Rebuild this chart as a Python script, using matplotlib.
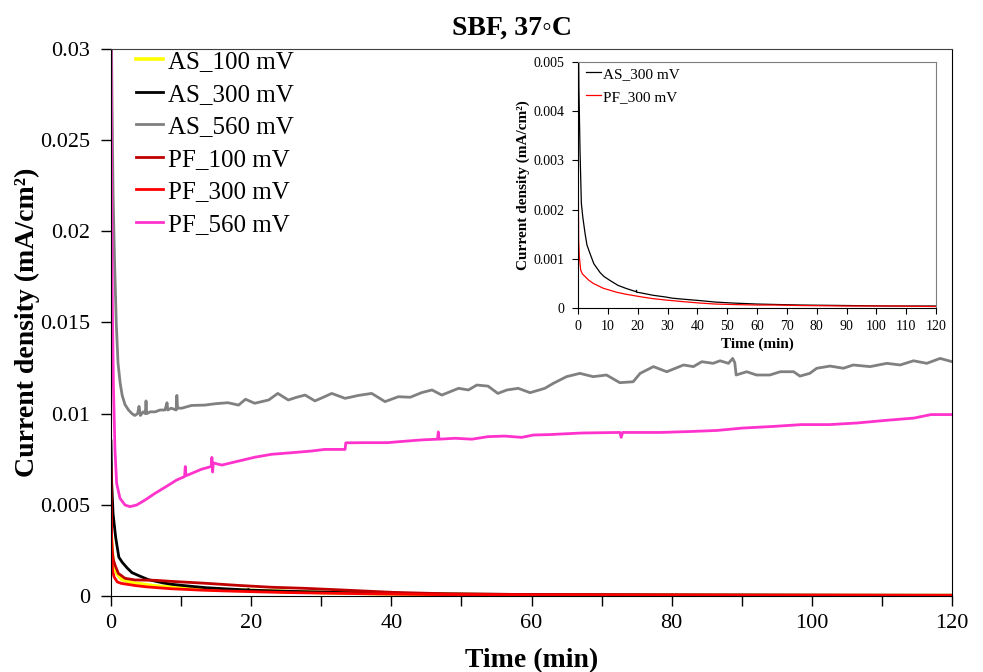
import matplotlib
matplotlib.use("Agg")
import matplotlib.pyplot as plt
from matplotlib.ticker import MultipleLocator, FuncFormatter

plt.rcParams['font.family'] = ['Liberation Serif', 'DejaVu Serif']

# AS_100 mV
t_as100 = [0, 0.15, 0.33, 0.81, 1.52, 2.95, 6.3, 11.0, 15.8, 20.5, 25.3, 32.0, 40.0, 50.0, 60.0, 80.0, 100.0, 120]
j_as100 = [0.0036, 0.0025, 0.0018, 0.00124, 0.00091, 0.00073, 0.00055, 0.00042, 0.00033, 0.0003, 0.00024,
           0.00017, 0.00012, 0.00008, 0.00005, 0.00003, 0.00002, 0.00002]

# AS_300 mV
t_as300 = [0, 0.1, 0.3, 0.67, 1.12, 1.6, 2.35, 3.0, 4.0, 5.3, 7.4, 8.7, 10.7, 13.4, 16.0, 19.5, 19.6, 19.7,
           20.8, 25.0, 29.7, 31.5, 35.0, 40.9, 46.0, 52.0, 60.0, 74.4, 90.0, 105.0, 120]
j_as300 = [0.0085, 0.0062, 0.0045, 0.00321, 0.00213, 0.00185, 0.00152, 0.00128, 0.00111, 0.00090, 0.00072,
           0.00064, 0.00056, 0.00046, 0.0004, 0.00033, 0.00036, 0.00032, 0.00031, 0.00026, 0.00022, 0.0002,
           0.00018, 0.00015, 0.00012, 0.0001, 0.00008, 0.00006, 0.00005, 0.00004, 0.00004]

# AS_560 mV
t_as560 = [0, 0.15, 0.3, 0.5, 0.75, 1.0, 1.3, 1.6, 2.0, 2.5, 3.0, 3.4, 3.8, 4.0, 4.2, 4.6, 4.9, 5.0, 5.1,
           5.6, 6.3, 7.0, 7.7, 8.0, 8.1, 8.6, 9.3, 9.4, 9.5, 10.1, 11.5, 13.4, 15.0, 16.7, 18.2, 19.2, 20.5,
           22.5, 23.8, 25.3, 26.5, 27.7, 29.1, 30.3, 31.5, 33.4, 35.3, 37.2, 39.1, 41.0, 42.7, 44.3, 45.8,
           47.2, 49.6, 51.0, 52.2, 53.8, 55.2, 56.5, 58.1, 59.8, 61.9, 63.1, 65.0, 66.9, 68.8, 70.7, 72.6,
           74.5, 75.5, 77.4, 79.3, 81.7, 83.1, 84.3, 85.9, 86.9, 88.1, 88.7, 89.0, 89.2, 90.7, 92.1, 94.0,
           95.5, 97.4, 98.3, 99.7, 100.7, 102.6, 104.5, 105.9, 108.3, 110.7, 112.6, 114.5, 116.4, 118.3, 120]
j_as560 = [0.034, 0.027, 0.022, 0.0185, 0.0150, 0.0128, 0.0117, 0.0110, 0.0105, 0.0102, 0.0100, 0.0099,
           0.0100, 0.0104, 0.0099, 0.0101, 0.0100, 0.0107, 0.0100, 0.0101, 0.0101, 0.0102, 0.0102, 0.0106,
           0.0102, 0.0103, 0.0102, 0.0110, 0.0103, 0.0103, 0.01045, 0.01047, 0.01055, 0.0106, 0.01047,
           0.01079, 0.01057, 0.01075, 0.01111, 0.01075, 0.0109, 0.01102, 0.0107, 0.0109, 0.01111, 0.01084,
           0.0110, 0.01111, 0.01066, 0.01093, 0.0109, 0.01115, 0.0113, 0.01102, 0.01139, 0.0113, 0.01157,
           0.01151, 0.01111, 0.0113, 0.01139, 0.01115, 0.01139, 0.01166, 0.01203, 0.01221, 0.01203, 0.01212,
           0.0117, 0.01175, 0.01221, 0.01258, 0.0123, 0.01267, 0.01258, 0.01285, 0.01276, 0.0129, 0.01276,
           0.01303, 0.0128, 0.01212, 0.0123, 0.01212, 0.01212, 0.0123, 0.0123, 0.01206, 0.01221, 0.01249,
           0.01261, 0.01249, 0.01267, 0.01258, 0.01276, 0.01267, 0.0129, 0.01276, 0.01303, 0.01285]

# PF_100 mV
t_pf100 = [0, 0.1, 0.2, 0.33, 0.57, 1.05, 2.0, 3.4, 6.3, 8.7, 13.4, 18.2, 22.9, 27.7, 33.0, 40.2, 48.0,
           60.0, 80.0, 100.0, 120]
j_pf100 = [0.0048, 0.0031, 0.0024, 0.0020, 0.0017, 0.00124, 0.00097, 0.00088, 0.00086, 0.00080, 0.0007,
           0.00058, 0.00048, 0.00042, 0.00033, 0.0002, 0.00012, 0.00008, 0.00006, 0.00005, 0.00004]

# PF_300 mV
t_pf300 = [0, 0.05, 0.1, 0.22, 0.45, 0.9, 1.5, 2.35, 3.5, 5.1, 8.5, 12.96, 16.0, 20.8, 25.0, 29.7, 35.0,
           40.9, 46.0, 52.0, 60.0, 66.0, 74.4, 90.0, 105.0, 120]
j_pf300 = [0.0070, 0.0045, 0.0025, 0.00138, 0.00104, 0.00077, 0.00069, 0.00064, 0.00057, 0.0005, 0.0004,
           0.00032, 0.00028, 0.00023, 0.00019, 0.00016, 0.00013, 0.0001, 0.00008, 0.00007, 0.00006, 0.00006,
           0.00005, 0.00004, 0.00004, 0.00003]

# PF_560 mV
t_pf560 = [0, 0.1, 0.2, 0.35, 0.57, 0.81, 1.28, 2.0, 2.71, 3.66, 4.85, 6.28, 7.7, 9.37, 10.5, 10.6, 10.7,
           11.0, 12.9, 14.3, 14.4, 14.5, 14.6, 15.8, 18.2, 20.5, 22.9, 25.8, 28.6, 30.5, 33.4, 33.5, 36.2,
           39.5, 41.0, 44.3, 46.6, 46.7, 46.8, 49.1, 51.5, 53.8, 56.2, 58.6, 60.3, 62.4, 67.2, 72.6, 72.8,
           73.0, 78.5, 83.3, 86.5, 90.1, 94.5, 98.5, 102.5, 106.5, 110.5, 114.6, 117.0, 120]
j_pf560 = [0.031, 0.022, 0.016, 0.0115, 0.0080, 0.00618, 0.00536, 0.00499, 0.0049, 0.00499, 0.00526,
           0.00563, 0.00596, 0.00636, 0.00655, 0.0071, 0.0066, 0.00664, 0.00695, 0.0071, 0.0076, 0.0068,
           0.0073, 0.00718, 0.0074, 0.00761, 0.00777, 0.00786, 0.00795, 0.00804, 0.00804, 0.0084, 0.00841,
           0.00841, 0.00846, 0.00856, 0.0086, 0.0090, 0.0086, 0.00865, 0.0086, 0.00874, 0.00877, 0.0087,
           0.00883, 0.00885, 0.00894, 0.00897, 0.0087, 0.00897, 0.00897, 0.00903, 0.00908, 0.00921, 0.0093,
           0.0094, 0.0094, 0.00949, 0.00963, 0.00976, 0.00995, 0.00995]

series = [
    ("AS_100 mV", t_as100, j_as100, "#FFFF00", 2.6),
    ("AS_300 mV", t_as300, j_as300, "#000000", 2.0),
    ("AS_560 mV", t_as560, j_as560, "#808080", 2.0),
    ("PF_100 mV", t_pf100, j_pf100, "#C00000", 2.0),
    ("PF_300 mV", t_pf300, j_pf300, "#FF0000", 2.0),
    ("PF_560 mV", t_pf560, j_pf560, "#FF33CC", 2.0),
]

fig = plt.figure(figsize=(9.83, 6.72), dpi=100)
ax = fig.add_axes([0.1129, 0.1131, 0.8556, 0.814])

for label, t, j, c, lw in series:
    ax.plot(t, j, color=c, lw=lw, label=label, solid_joinstyle='round')

ax.set_xlim(0, 120)
ax.set_ylim(0, 0.03)
ax.xaxis.set_major_locator(MultipleLocator(20))
ax.xaxis.set_minor_locator(MultipleLocator(10))
ax.yaxis.set_major_locator(MultipleLocator(0.005))
ax.yaxis.set_major_formatter(FuncFormatter(lambda v, p: "%g" % round(v, 6)))
ax.tick_params(axis='both', which='both', direction='out', length=7, width=1, labelsize=16)
ax.tick_params(axis='y', pad=8)
ax.tick_params(axis='x', pad=6)
ax.spines['top'].set_color('#404040')
ax.set_xlabel("Time (min)", fontsize=20, fontweight='bold', labelpad=11)
ax.set_ylabel("Current density (mA/cm²)", fontsize=20, fontweight='bold', labelpad=0)

ax.legend(loc='upper left', bbox_to_anchor=(0.0297, 0.997), frameon=False, fontsize=18,
          handlelength=1.1, handletextpad=0.17, labelspacing=0.4, borderpad=0, borderaxespad=0)

fig.text(512.5 / 983, 1 - 28 / 672, "SBF, 37◦C", ha='center', va='center', fontsize=20, fontweight='bold')

# inset
ins = fig.add_axes([0.588, 0.5417, 0.3642, 0.366])
ins.plot(t_as300, j_as300, color="#000000", lw=0.9, label="AS_300 mV")
ins.plot(t_pf300, j_pf300, color="#FF0000", lw=0.9, label="PF_300 mV")
ins.set_xlim(0, 120)
ins.set_ylim(0, 0.005)
ins.xaxis.set_major_locator(MultipleLocator(10))
ins.yaxis.set_major_locator(MultipleLocator(0.001))
ins.yaxis.set_major_formatter(FuncFormatter(lambda v, p: "%g" % round(v, 6)))
ins.tick_params(axis='both', direction='out', length=4, width=0.8, labelsize=10)
ins.tick_params(axis='y', pad=6)
ins.tick_params(axis='x', pad=5)
for s in ('top', 'right'):
    ins.spines[s].set_color('#7f7f7f')
ins.set_xlabel("Time (min)", fontsize=11, fontweight='bold', labelpad=3)
ins.set_ylabel("Current density (mA/cm²)", fontsize=11, fontweight='bold', labelpad=2)
ins.legend(loc='upper left', bbox_to_anchor=(0.022, 0.98), frameon=False, fontsize=11,
           handlelength=1.0, handletextpad=0.1, labelspacing=0.62, borderpad=0, borderaxespad=0)

fig.savefig("out.png", dpi=100)
